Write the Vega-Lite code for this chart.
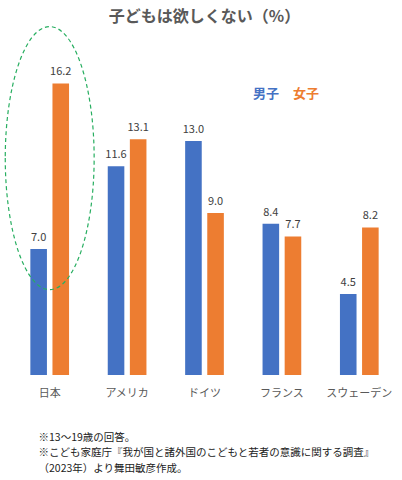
{
  "$schema": "https://vega.github.io/schema/vega-lite/v6.json",
  "width": 387,
  "height": 324,
  "autosize": "none",
  "padding": {"left": 11, "top": 51, "right": 4, "bottom": 105},
  "background": "white",
  "config": {"view": {"stroke": null}, "font": "Noto Sans CJK JP"},
  "title": {
    "text": "子どもは欲しくない（%）",
    "font": "Noto Sans CJK JP",
    "fontSize": 16,
    "fontWeight": "bold",
    "color": "#595959",
    "anchor": "middle",
    "offset": -1
  },
  "layer": [
    {
      "data": {
        "values": [
          {"country": "日本", "sex": "男子", "value": 7.0},
          {"country": "日本", "sex": "女子", "value": 16.2},
          {"country": "アメリカ", "sex": "男子", "value": 11.6},
          {"country": "アメリカ", "sex": "女子", "value": 13.1},
          {"country": "ドイツ", "sex": "男子", "value": 13.0},
          {"country": "ドイツ", "sex": "女子", "value": 9.0},
          {"country": "フランス", "sex": "男子", "value": 8.4},
          {"country": "フランス", "sex": "女子", "value": 7.7},
          {"country": "スウェーデン", "sex": "男子", "value": 4.5},
          {"country": "スウェーデン", "sex": "女子", "value": 8.2}
        ]
      },
      "encoding": {
        "x": {
          "field": "country",
          "type": "nominal",
          "sort": null,
          "scale": {"paddingInner": 0.5, "paddingOuter": 0.25},
          "axis": {
            "domain": false,
            "ticks": false,
            "labelAngle": 0,
            "labelFontSize": 11,
            "labelColor": "#595959",
            "labelPadding": 12,
            "title": ["※13〜19歳の回答。", "※こども家庭庁『我が国と諸外国のこどもと若者の意識に関する調査』", "（2023年）より舞田敏彦作成。"],
            "titleFontSize": 10.5,
            "titleFontWeight": "normal",
            "titleColor": "#222222",
            "titleLineHeight": 15.5,
            "titleAnchor": "start",
            "titleAlign": "left",
            "titleBaseline": "top",
            "titleX": 27,
            "titleY": 57
          }
        },
        "xOffset": {
          "field": "sex",
          "type": "nominal",
          "sort": ["男子", "女子"],
          "scale": {"paddingInner": 0.25}
        },
        "y": {
          "field": "value",
          "type": "quantitative",
          "scale": {"domain": [0, 18], "nice": false},
          "axis": null
        }
      },
      "layer": [
        {
          "mark": {"type": "bar"},
          "encoding": {
            "color": {
              "field": "sex",
              "type": "nominal",
              "scale": {"domain": ["男子", "女子"], "range": ["#4472C4", "#ED7D31"]},
              "legend": {
                "orient": "none",
                "legendX": 229,
                "legendY": 36,
                "direction": "horizontal",
                "title": null,
                "symbolSize": 0,
                "symbolStrokeWidth": 0,
                "symbolOpacity": 0,
                "labelOffset": 0,
                "columnPadding": 0,
                "labelFontSize": 13,
                "labelFontWeight": "bold",
                "labelFont": "Noto Sans CJK JP",
                "encode": {
                  "labels": {"update": {"fill": {"scale": "color", "field": "value"}}}
                }
              }
            }
          }
        },
        {
          "mark": {"type": "text", "baseline": "bottom", "dy": -6, "fontSize": 11, "color": "#404040"},
          "encoding": {
            "text": {"field": "value", "type": "quantitative", "format": ".1f"}
          }
        }
      ]
    },
    {
      "data": {"values": [{"country": "日本", "center": 12.05}]},
      "mark": {
        "type": "point",
        "shape": "M -0.338 0 A 0.338 1 0 1 0 0.338 0 A 0.338 1 0 1 0 -0.338 0 Z",
        "size": 69169,
        "filled": false,
        "stroke": "#27AE60",
        "strokeWidth": 1.2,
        "strokeDash": [4, 3],
        "opacity": 1
      },
      "encoding": {
        "x": {"field": "country", "type": "nominal", "sort": null},
        "y": {"field": "center", "type": "quantitative"}
      }
    }
  ]
}
